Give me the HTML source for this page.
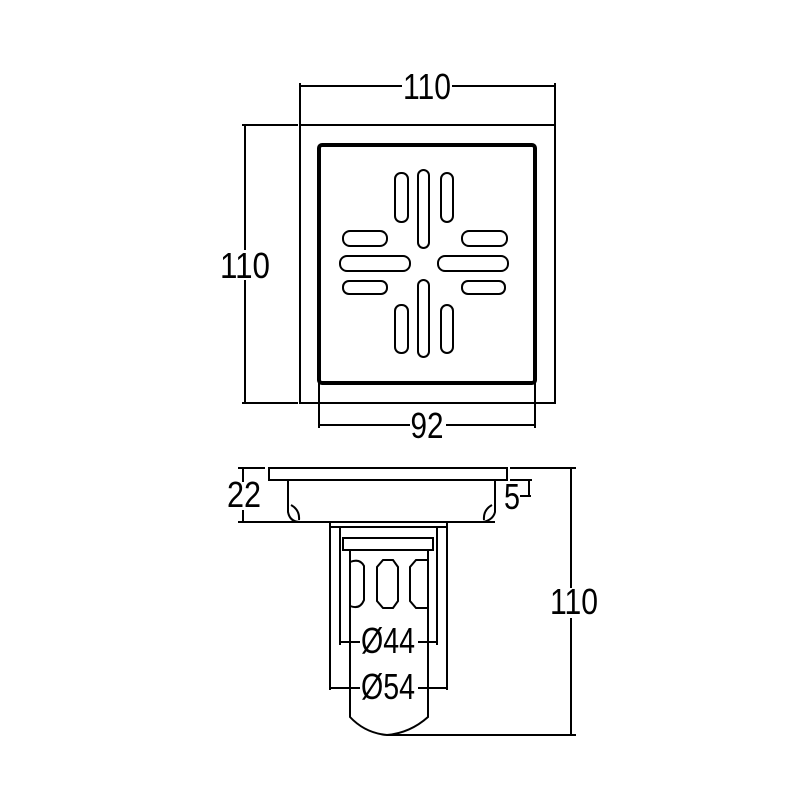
<!DOCTYPE html>
<html><head><style>body{margin:0;background:#fff}svg{display:block}</style></head>
<body>
<svg width="800" height="800" viewBox="0 0 800 800" xmlns="http://www.w3.org/2000/svg">
<g fill="none" stroke="#000" stroke-width="2">
<!-- top view -->
<rect x="300" y="125" width="255" height="278"/>
<rect x="319" y="145" width="216" height="238" rx="3" stroke-width="4"/>
<line x1="319" y1="383" x2="319" y2="428"/><line x1="535" y1="383" x2="535" y2="428"/>
<line x1="319" y1="425" x2="535" y2="425"/>
<line x1="300" y1="83" x2="300" y2="125"/><line x1="555" y1="83" x2="555" y2="125"/>
<line x1="300" y1="86" x2="555" y2="86"/>
<line x1="242" y1="125" x2="298" y2="125"/><line x1="242" y1="403" x2="298" y2="403"/>
<line x1="245" y1="125" x2="245" y2="403"/>
<!-- slots -->
<rect x="395" y="173" width="13" height="49" rx="6"/>
<rect x="418" y="170" width="11" height="78" rx="5.5"/>
<rect x="441" y="173" width="12" height="49" rx="6"/>
<rect x="395" y="305" width="13" height="48" rx="6"/>
<rect x="418" y="280" width="11" height="77" rx="5.5"/>
<rect x="441" y="305" width="12" height="48" rx="6"/>
<rect x="343" y="231" width="44" height="15" rx="7"/>
<rect x="340" y="256" width="70" height="15" rx="7"/>
<rect x="343" y="281" width="44" height="13" rx="6"/>
<rect x="462" y="231" width="45" height="15" rx="7"/>
<rect x="438" y="256" width="70" height="15" rx="7"/>
<rect x="462" y="281" width="43" height="13" rx="6"/>
<!-- side view -->
<rect x="269" y="468" width="238" height="12"/>
<path d="M288 480 V512 Q290 522 300 522 H483 Q493 520 495 512 V480"/>
<path d="M291 505 Q300 510 299 520"/><path d="M492 505 Q483 510 484 520"/>
<line x1="288" y1="522" x2="495" y2="522"/>
<rect x="330" y="522" width="117" height="5"/>
<line x1="330" y1="527" x2="330" y2="690"/><line x1="447" y1="527" x2="447" y2="690"/>
<line x1="340" y1="527" x2="340" y2="645"/><line x1="437" y1="527" x2="437" y2="645"/>
<rect x="343" y="538" width="90" height="12"/>
<path d="M350 550 V717 Q365 733 387 735 Q410 733 428 717 V550"/>
<path d="M350 562 Q360 558 364 566 V600 Q360 610 350 606"/>
<path d="M383 560 H393 L398 567 V601 L393 608 H383 L377 601 V567 Z"/>
<path d="M428 560 H416 L410 567 V601 L416 608 H428"/>
<line x1="340" y1="642" x2="437" y2="642"/>
<line x1="330" y1="688" x2="447" y2="688"/>
<!-- dims -->
<line x1="238" y1="468" x2="265" y2="468"/><line x1="238" y1="522" x2="288" y2="522"/>
<line x1="243" y1="468" x2="243" y2="522"/>
<line x1="510" y1="468" x2="576" y2="468"/><line x1="387" y1="735" x2="576" y2="735"/>
<line x1="571" y1="468" x2="571" y2="735"/>
<line x1="510" y1="480" x2="532" y2="480"/><line x1="529" y1="480" x2="529" y2="496"/><line x1="520" y1="496" x2="531" y2="496"/>
</g>
<g font-family="Liberation Sans, sans-serif" font-size="36" fill="#000" text-anchor="middle">
<rect x="402" y="70" width="50" height="30" fill="#fff"/>
<text x="427" y="99" textLength="48" lengthAdjust="spacingAndGlyphs">110</text>
<rect x="218" y="250" width="54" height="30" fill="#fff"/>
<text x="245" y="278" textLength="50" lengthAdjust="spacingAndGlyphs">110</text>
<rect x="410" y="412" width="36" height="30" fill="#fff"/>
<text x="427" y="438" textLength="33" lengthAdjust="spacingAndGlyphs">92</text>
<rect x="226" y="482" width="36" height="28" fill="#fff"/>
<text x="244" y="507" textLength="34" lengthAdjust="spacingAndGlyphs">22</text>
<text x="512" y="509" textLength="16" lengthAdjust="spacingAndGlyphs">5</text>
<rect x="550" y="588" width="48" height="30" fill="#fff"/>
<text x="574" y="614" textLength="48" lengthAdjust="spacingAndGlyphs">110</text>
<rect x="360" y="628" width="58" height="28" fill="#fff"/>
<text x="388" y="653" textLength="54" lengthAdjust="spacingAndGlyphs">Ø44</text>
<rect x="360" y="674" width="58" height="28" fill="#fff"/>
<text x="388" y="699" textLength="54" lengthAdjust="spacingAndGlyphs">Ø54</text>
</g>
</svg>
</body></html>
